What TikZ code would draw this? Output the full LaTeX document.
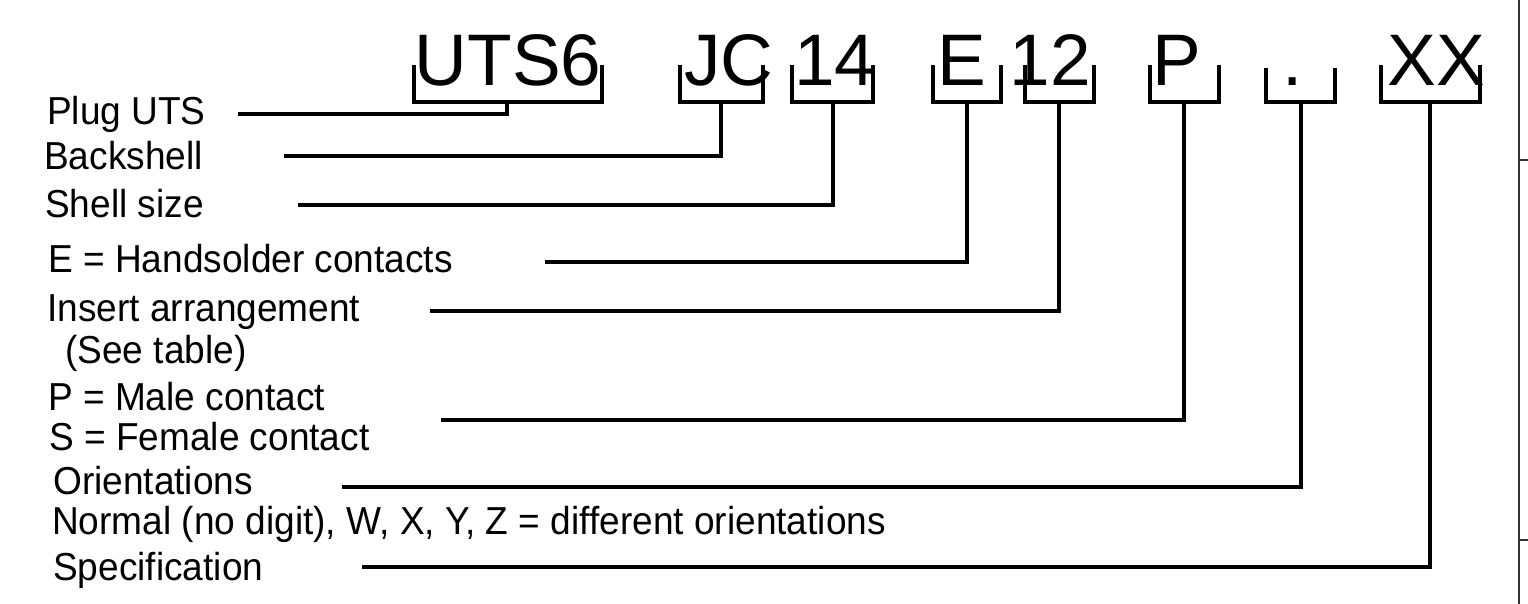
\documentclass[tikz,border=0pt]{standalone}
\usepackage{fontspec}
\setmainfont{Liberation Sans}
\newfontfamily\labelfont[FakeStretch=0.95]{Liberation Sans}
\usetikzlibrary{positioning,calc}
\tikzset{
    % Large characters of the order code
    code char/.style={
        font=\fontsize{73}{80}\selectfont,
        inner sep=0pt,
        anchor=base
    },
    % Explanation texts on the left
    code label/.style={
        font=\labelfont\fontsize{39}{42}\selectfont,
        inner sep=0pt,
        anchor=base west
    },
    % Brackets and leader lines
    lead line/.style={
        line width=3.2pt,
        color=black
    },
    % Thin frame at the right border
    frame line/.style={
        line width=1.6pt,
        color=black!80
    }
}

\begin{document}
\begin{tikzpicture}[x=1pt,y=-1pt]

% Set the canvas size
\useasboundingbox (0,0) rectangle (1528,604);

% Order code characters
\node[code char] (uts) at (508,86) {UTS6};
\node[code char] (jc) at (729,86) {JC};
\node[code char] (size) at (835,86) {14};
\node[code char] (cont) at (962,86) {E};
\node[code char] (ins) at (1050,86) {12};
\node[code char] (gend) at (1177,86) {P};
\node[code char] (dot) at (1293,86) {.};
\node[code char] (spec) at (1436,86) {XX};

% Brackets below the characters
\draw[lead line] (414,65) |- (602,102) -- (602,65);
\draw[lead line] (680,65) |- (763,102) -- (763,65);
\draw[lead line] (792,65) |- (873,102) -- (873,65);
\draw[lead line] (933,65) |- (1001,102) -- (1001,65);
\draw[lead line] (1025,65) |- (1094,102) -- (1094,65);
\draw[lead line] (1150,65) |- (1219,102) -- (1219,65);
\draw[lead line] (1266,68) |- (1335,102) -- (1335,68);
\draw[lead line] (1381,65) |- (1480,102) -- (1480,65);

% Stem points of the brackets
\coordinate (uts stem) at (507,102);
\coordinate (jc stem) at (721,102);
\coordinate (size stem) at (833,102);
\coordinate (cont stem) at (967,102);
\coordinate (ins stem) at (1059,102);
\coordinate (gend stem) at (1184,102);
\coordinate (dot stem) at (1301,102);
\coordinate (spec stem) at (1430,102);

% Explanation texts
\node[code label] (plug) at (47,125) {Plug UTS};
\node[code label] (back) at (44,170) {Backshell};
\node[code label] (shell) at (45,218) {Shell size};
\node[code label] (solder) at (48,272) {E = Handsolder contacts};
\node[code label] (insert) at (47,321) {Insert arrangement};
\node[code label] (table) at (65,363) {(See table)};
\node[code label] (male) at (48,410) {P = Male contact};
\node[code label] (female) at (49,450) {S = Female contact};
\node[code label] (orient) at (53,494) {Orientations};
\node[code label] (normal) at (52,534) {Normal (no digit), W, X, Y, Z = different orientations};
\node[code label] (specif) at (53,580) {Specification};

% Free ends of the leader lines
\coordinate (plug end) at (238,114);
\coordinate (back end) at (284,156);
\coordinate (shell end) at (298,205);
\coordinate (solder end) at (545,262);
\coordinate (insert end) at (430,311);
\coordinate (male end) at (441,420);
\coordinate (orient end) at (342,487);
\coordinate (specif end) at (362,567);

% Leader lines from brackets to texts
\draw[lead line] (uts stem) |- (plug end);
\draw[lead line] (jc stem) |- (back end);
\draw[lead line] (size stem) |- (shell end);
\draw[lead line] (cont stem) |- (solder end);
\draw[lead line] (ins stem) |- (insert end);
\draw[lead line] (gend stem) |- (male end);
\draw[lead line] (dot stem) |- (orient end);
\draw[lead line] (spec stem) |- (specif end);

% Right border with ticks
\draw[frame line] (1519,0) -- (1519,604);
\draw[frame line] (1519,160) -- (1528,160);
\draw[frame line] (1519,540) -- (1528,540);

\end{tikzpicture}
\end{document}
